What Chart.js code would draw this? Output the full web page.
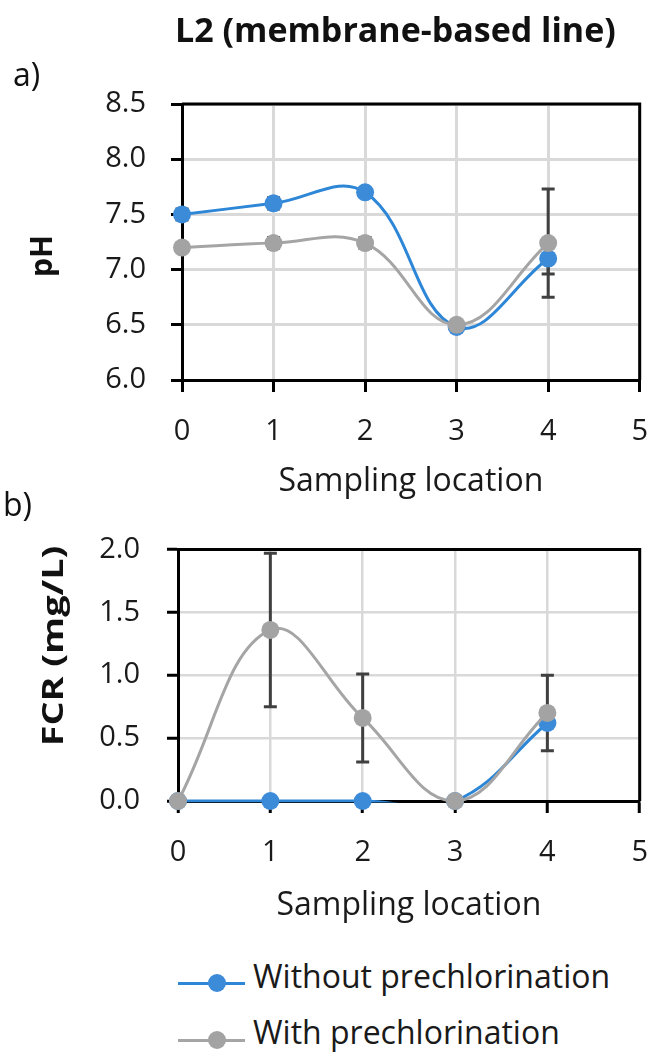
<!DOCTYPE html>
<html><head><meta charset="utf-8">
<script src="https://cdn.jsdelivr.net/npm/chart.js@4"></script>
<style>
html,body{margin:0;padding:0;background:#fff;}
body{width:670px;height:1057px;position:relative;overflow:hidden;font-family:'Open Sans',sans-serif;color:#111;}
canvas{position:absolute;left:0;}
.t{position:absolute;white-space:nowrap;line-height:1;}
.rot{position:absolute;white-space:nowrap;line-height:1;font-weight:bold;}
.sw-line{position:absolute;height:3px;}
.sw-dot{position:absolute;width:18px;height:18px;border-radius:50%;}
</style></head><body>
<canvas id="c1" width="670" height="505" style="top:0"></canvas>
<canvas id="c2" width="670" height="425" style="top:505px"></canvas>

<div class="t" id="title" style="left:175px;top:12px;font-size:34px;font-weight:bold;color:#111">L2 (membrane-based line)</div>
<div class="t" style="left:13px;top:58px;font-size:32px">a)</div>
<div class="t" style="left:3px;top:488px;font-size:32px">b)</div>
<div class="rot" id="ylab1" style="left:41px;top:256px;font-size:30px;transform:translate(-50%,-50%) rotate(-90deg)"></div>
<div class="rot" id="ylab2" style="left:52px;top:646px;font-size:28px;transform:translate(-50%,-50%) rotate(-90deg) scaleX(1.35)"></div>

<div id="legend"></div>

<script>
// ---- data ----
const locations = [0, 1, 2, 3, 4];
const xTicks = [0, 1, 2, 3, 4, 5];
const seriesNames = ['Without prechlorination', 'With prechlorination'];

const phWithout    = [7.50, 7.60, 7.70, 6.48, 7.10];
const phWithoutErr = [0.05, 0.05, 0.00, 0.00, 0.14];
const phWith       = [7.20, 7.24, 7.24, 6.50, 7.24];
const phWithErr    = [0.00, 0.05, 0.05, 0.00, 0.49];
const phTicks      = [6.0, 6.5, 7.0, 7.5, 8.0, 8.5];

const fcrWithout    = [0.00, 0.00, 0.00, 0.00, 0.62];
const fcrWithoutErr = [0.00, 0.00, 0.00, 0.00, 0.00];
const fcrWith       = [0.00, 1.36, 0.66, 0.00, 0.70];
const fcrWithErr    = [0.00, 0.61, 0.35, 0.00, 0.30];
const fcrTicks      = [0.0, 0.5, 1.0, 1.5, 2.0];

const xTitle = 'Sampling location';
const yTitle1 = 'pH';
const yTitle2 = 'FCR (mg/L)';

// ---- styles ----
const BLUE_LINE = '#2e86d6', BLUE_DOT = '#3b8bd9';
const GRAY_LINE = '#a5a5a5', GRAY_DOT = '#a3a3a3';
const FONT = "'Open Sans'";

document.getElementById('ylab1').textContent = yTitle1;
document.getElementById('ylab2').textContent = yTitle2;

// legend (HTML)
(function(){
  const lg = document.getElementById('legend');
  const rows = [
    {name: seriesNames[0], line: BLUE_LINE, dot: BLUE_DOT, y: 983, base: 988},
    {name: seriesNames[1], line: GRAY_LINE, dot: GRAY_DOT, y: 1040, base: 1044}
  ];
  rows.forEach(r => {
    const l = document.createElement('div'); l.className = 'sw-line';
    l.style.cssText += `left:178px;width:67px;top:${r.y-1.5}px;background:${r.line}`;
    const d = document.createElement('div'); d.className = 'sw-dot';
    d.style.cssText += `left:${217-9}px;top:${r.y-9}px;background:${r.dot}`;
    const t = document.createElement('div'); t.className = 't';
    t.style.cssText += `left:253px;top:${r.base-28.4}px;font-size:32px;color:#1a1a1a`;
    t.textContent = r.name;
    lg.appendChild(l); lg.appendChild(d); lg.appendChild(t);
  });
})();

function pts(ys){ return locations.map((x, i) => ({x: x, y: ys[i]})); }

function series(ys, errs, lineColor, dotColor, baseOrder, name){
  return [
    {label: name, data: pts(ys), showLine: true, borderColor: lineColor, borderWidth: 3,
     pointRadius: 0, pointHoverRadius: 0, tension: 0.4, fill: false,
     clip: {left: 2, right: 2, top: 2, bottom: 1.5}, order: baseOrder + 1},
    {label: name, data: pts(ys), showLine: false, pointRadius: 9, pointHoverRadius: 9,
     pointBackgroundColor: dotColor, pointBorderColor: dotColor, pointBorderWidth: 0,
     clip: false, order: baseOrder, errorBars: errs}
  ];
}

const framePlugin = {
  id: 'frameAndErrors',
  beforeDatasetsDraw(chart){
    const {ctx, chartArea: a, scales: {x, y}} = chart;
    ctx.save();
    ctx.strokeStyle = '#000'; ctx.lineWidth = 3;
    ctx.beginPath();
    ctx.moveTo(a.left, a.top); ctx.lineTo(a.right, a.top); ctx.lineTo(a.right, a.bottom);
    ctx.stroke();
    ctx.strokeStyle = '#404040'; ctx.lineWidth = 3;
    chart.data.datasets.forEach(ds => {
      if (!ds.errorBars) return;
      ds.data.forEach((p, i) => {
        const e = ds.errorBars[i];
        if (!e) return;
        const px = x.getPixelForValue(p.x);
        const y1 = y.getPixelForValue(p.y + e);
        const y2 = y.getPixelForValue(p.y - e);
        ctx.beginPath();
        ctx.moveTo(px, y1); ctx.lineTo(px, y2);
        ctx.moveTo(px - 6.5, y1); ctx.lineTo(px + 6.5, y1);
        ctx.moveTo(px - 6.5, y2); ctx.lineTo(px + 6.5, y2);
        ctx.stroke();
      });
    });
    ctx.restore();
  }
};

function makeChart(el, datasets, yMin, yMax, yTicks, cfg){
  return new Chart(el, {
    type: 'line',
    data: {datasets: datasets},
    plugins: [framePlugin],
    options: {
      responsive: false, animation: false, devicePixelRatio: 1,
      layout: {padding: {top: cfg.padTop, right: cfg.padRight, left: 0, bottom: 0}},
      plugins: {legend: {display: false}, tooltip: {enabled: false}, title: {display: false}},
      elements: {line: {capBezierPoints: false}},
      events: [],
      scales: {
        x: {
          type: 'linear', min: 0, max: 5,
          afterBuildTicks: s => { s.ticks = xTicks.map(v => ({value: v})); },
          afterFit: s => { s.height = cfg.xHeight; },
          grid: {color: '#d9d9d9', lineWidth: cfg.gridW, tickColor: '#000', tickWidth: 3, tickLength: 12, drawTicks: true},
          border: {color: '#000', width: 3},
          ticks: {font: {family: FONT, size: 29}, color: '#1a1a1a', padding: 22, maxRotation: 0, autoSkip: false,
                  callback: v => String(v)},
          title: {display: true, text: xTitle, font: {family: FONT, size: 32}, color: '#1a1a1a',
                  padding: {top: 0, bottom: cfg.titlePad}}
        },
        y: {
          type: 'linear', min: yMin, max: yMax,
          afterBuildTicks: s => { s.ticks = yTicks.map(v => ({value: v})); },
          afterFit: s => { s.width = cfg.yWidth; },
          grid: {color: '#d9d9d9', lineWidth: cfg.gridW, tickColor: '#000', tickWidth: 3, tickLength: 11, drawTicks: true},
          border: {color: '#000', width: 3},
          ticks: {font: {family: FONT, size: 29}, color: '#1a1a1a', padding: cfg.yTickPad, autoSkip: false,
                  callback: v => Number(v).toFixed(1)}
        }
      }
    }
  });
}

makeChart(document.getElementById('c1'),
  [...series(phWithout, phWithoutErr, BLUE_LINE, BLUE_DOT, 3, seriesNames[0]),
   ...series(phWith, phWithErr, GRAY_LINE, GRAY_DOT, 1, seriesNames[1])],
  6.0, 8.5, phTicks,
  {padTop: 104, padRight: 23, xHeight: 125, yWidth: 182, gridW: 3, yTickPad: 25, titlePad: 4});

makeChart(document.getElementById('c2'),
  [...series(fcrWithout, fcrWithoutErr, BLUE_LINE, BLUE_DOT, 3, seriesNames[0]),
   ...series(fcrWith, fcrWithErr, GRAY_LINE, GRAY_DOT, 1, seriesNames[1])],
  0.0, 2.0, fcrTicks,
  {padTop: 29, padRight: 27, xHeight: 129, yWidth: 178, gridW: 2.5, yTickPad: 27, titlePad: 5});
</script>
</body></html>
